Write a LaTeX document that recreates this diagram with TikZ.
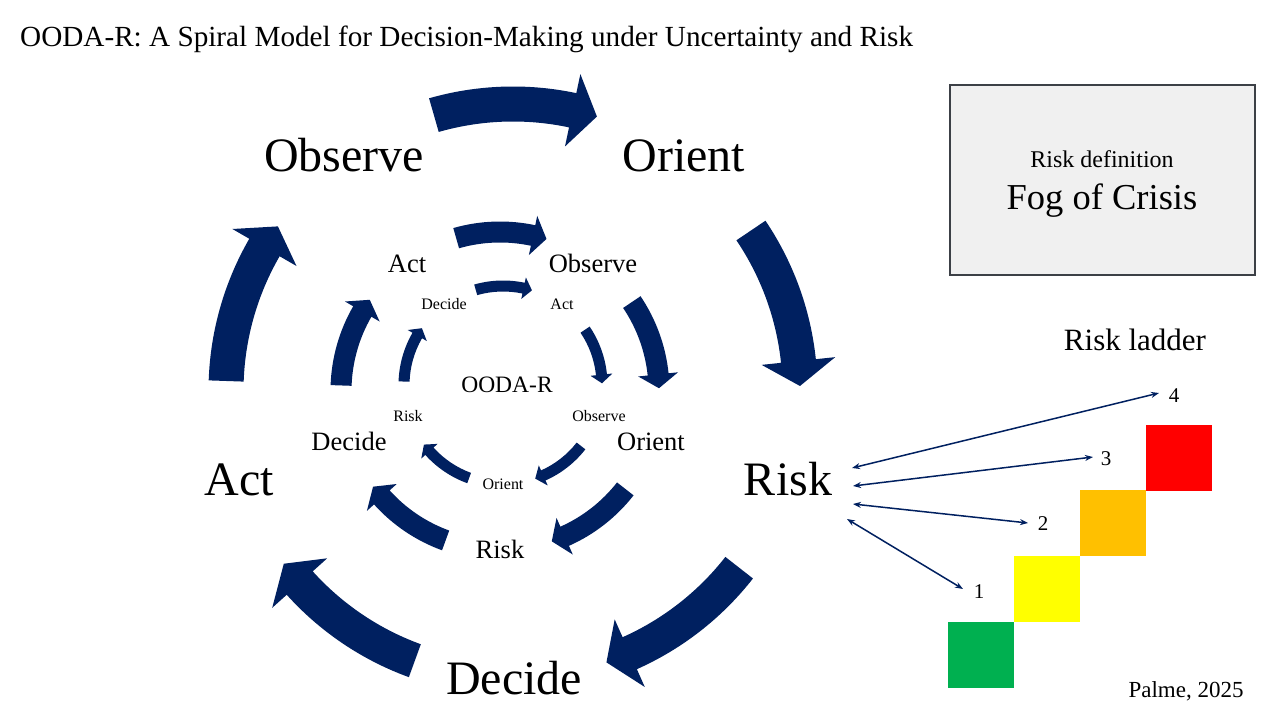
\documentclass[tikz,border=0pt]{standalone}
\usepackage{fontspec}
\setmainfont{Liberation Serif}
\usetikzlibrary{arrows.meta}
\definecolor{arrowblue}{RGB}{0,32,96}
\definecolor{boxfill}{RGB}{240,240,240}
\definecolor{boxline}{RGB}{60,64,70}
\definecolor{lgreen}{RGB}{0,176,80}
\definecolor{lyellow}{RGB}{255,255,0}
\definecolor{lorange}{RGB}{255,192,0}
\definecolor{lred}{RGB}{255,0,0}
\newcommand{\ringarrows}[5]{%
\begin{scope}[shift={(#1,#2)}]
\foreach \k in {0,...,4}{
\pgfmathsetmacro{\ta}{-106+72*\k}
\pgfmathsetmacro{\ba}{-78+72*\k}
\pgfmathsetmacro{\pa}{-73+72*\k}
\fill[arrowblue] (\ta:{#3+#4/2}) arc[start angle=\ta,end angle=\ba,radius={#3+#4/2}] -- (\ba:{#3+#5/2}) -- (\pa:#3) -- (\ba:{#3-#5/2}) -- (\ba:{#3-#4/2}) arc[start angle=\ba,end angle=\ta,radius={#3-#4/2}] -- cycle;
}
\end{scope}}
\begin{document}
\begin{tikzpicture}[x=1pt,y=-1pt,
  lbl/.style={anchor=base,inner sep=0pt,text=black},
  big/.style={lbl,font=\fontsize{48}{56}\selectfont},
  mid/.style={lbl,font=\fontsize{26.5}{32}\selectfont},
  small/.style={lbl,font=\fontsize{16}{19}\selectfont},
  num/.style={lbl,font=\fontsize{21}{25}\selectfont},
  ladderarrow/.style={draw=arrowblue,line width=1.5pt,{Stealth[length=8pt,width=6pt]}-{Stealth[length=8pt,width=6pt]}},
  step box/.style={inner sep=0pt,minimum size=66pt,draw=none}]
\useasboundingbox (0,0) rectangle (1280,720);
\fill[white] (0,0) rectangle (1280,720);
% title
\node[lbl,anchor=base west,font=\fontsize{29.2}{34}\selectfont] (title) at (20,46) {OODA-R: A Spiral Model for Decision-Making under Uncertainty and Risk};
% rings of arrows
\ringarrows{513}{391}{287}{35}{74}
\ringarrows{500}{391}{159}{21}{40}
\ringarrows{503}{385}{99}{11}{22}
% outer labels
\node[big] (oObs) at (344,171) {Observe};
\node[big] (oOri) at (684,171) {Orient};
\node[big] (oRisk) at (788,495) {Risk};
\node[big] (oDec) at (514,694) {Decide};
\node[big] (oAct) at (239,495) {Act};
% middle labels
\node[mid] (mAct) at (407,272) {Act};
\node[mid] (mObs) at (593,272) {Observe};
\node[mid] (mOri) at (651,450) {Orient};
\node[mid] (mDec) at (349,450) {Decide};
\node[mid] (mRisk) at (500,558) {Risk};
% inner labels
\node[small] (iDec) at (444,309) {Decide};
\node[small] (iAct) at (562,309) {Act};
\node[small] (iObs) at (599,421) {Observe};
\node[small] (iRisk) at (408,421) {Risk};
\node[small] (iOri) at (503,489) {Orient};
\node[lbl,font=\fontsize{23.5}{28}\selectfont] (center) at (507,392) {OODA-R};
% risk definition box
\node[draw=boxline,fill=boxfill,line width=1.6pt,minimum width=305pt,minimum height=190pt,inner sep=0pt] (defbox) at (1102.5,180) {};
\node[lbl,font=\fontsize{24}{28}\selectfont] (defhead) at (1102,167) {Risk definition};
\node[lbl,font=\fontsize{36.5}{42}\selectfont] (fog) at (1102,209) {Fog of Crisis};
% risk ladder
\node[lbl,font=\fontsize{31}{36}\selectfont] (ladder) at (1135,350) {Risk ladder};
\node[step box,fill=lgreen] (s1) at (981,655) {};
\node[step box,fill=lyellow] (s2) at (1046.5,589) {};
\node[step box,fill=lorange] (s3) at (1113,523) {};
\node[step box,fill=lred] (s4) at (1179,457.5) {};
\node[num] (n4) at (1174,402) {4};
\node[num] (n3) at (1106,465) {3};
\node[num] (n2) at (1043,530) {2};
\node[num] (n1) at (979,598) {1};
\coordinate (r4) at (852,468);
\coordinate (r3) at (853,486);
\coordinate (r2) at (853,504);
\coordinate (r1) at (847,519);
\coordinate (e4) at (1159,393);
\coordinate (e3) at (1093,457);
\coordinate (e2) at (1028,523);
\coordinate (e1) at (963,589);
\draw[ladderarrow] (r4) -- (e4);
\draw[ladderarrow] (r3) -- (e3);
\draw[ladderarrow] (r2) -- (e2);
\draw[ladderarrow] (r1) -- (e1);
\node[lbl,font=\fontsize{23}{27}\selectfont] (credit) at (1186,697) {Palme, 2025};
\end{tikzpicture}
\end{document}
